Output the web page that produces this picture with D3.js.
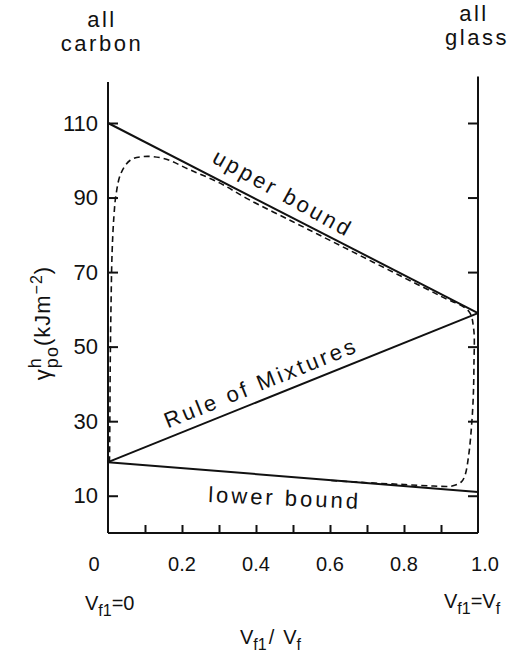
<!DOCTYPE html>
<html>
<head>
<meta charset="utf-8">
<script src="https://cdn.jsdelivr.net/npm/d3@7"></script>
<style>
  body { margin: 0; background: #fff; }
  text { font-family: "Liberation Sans", Arial, sans-serif; fill: #111; }
</style>
</head>
<body>
<div id="chart"></div>
<script>
var width = 510
var height = 660

// bounds (volume fraction of glass fibre -> toughness)
var upperBound = [[0, 110], [1, 59]]
var ruleOfMixtures = [[0, 19], [1, 59]]
var lowerBound = [[0, 19], [1, 11]]

var hybridCurve = [
  [0.004, 19], [0.005, 30], [0.006, 45], [0.008, 60], [0.011, 75], [0.016, 85],
  [0.022, 91], [0.035, 96.5], [0.06, 100], [0.095, 101], [0.15, 100.5],
  [0.22, 97.5], [0.3, 94], [0.38, 89.5], [0.5, 83.5], [0.6, 78.5], [0.7, 73.5],
  [0.8, 68.5], [0.9, 63.5], [0.975, 59.5], [0.988, 55], [0.989, 45],
  [0.987, 36], [0.982, 28], [0.975, 21], [0.965, 15.5], [0.955, 13.7], [0.93, 12.6],
  [0.88, 12.6], [0.8, 13], [0.7, 13.5], [0.6, 14.1]
]

var yTicks = [10, 30, 50, 70, 90, 110]
var xTicks = [0.1, 0.2, 0.3, 0.4, 0.5, 0.6, 0.7, 0.8, 0.9]
var xLabels = [0, 0.2, 0.4, 0.6, 0.8, 1.0]

var svg = d3.select("#chart")
    .append("svg")
    .attr("width", width)
    .attr("height", height)

var x = d3.scaleLinear().domain([0, 1]).range([108, 478])
var y = d3.scaleLinear().domain([0, 121]).range([533, 82])

var line = d3.line()
    .x(function (d) { return x(d[0]) })
    .y(function (d) { return y(d[1]) })

// axes frame
svg.append("line")
    .attr("x1", x(0)).attr("x2", x(0))
    .attr("y1", y(0)).attr("y2", y(121))
    .attr("stroke", "#111").attr("stroke-width", 2)
svg.append("line")
    .attr("x1", x(1)).attr("x2", x(1))
    .attr("y1", y(0)).attr("y2", y(122.5))
    .attr("stroke", "#111").attr("stroke-width", 2)
svg.append("line")
    .attr("x1", x(0)).attr("x2", x(1))
    .attr("y1", y(0)).attr("y2", y(0))
    .attr("stroke", "#111").attr("stroke-width", 2)

// left axis with inward ticks
var left = svg.append("g")
    .attr("transform", "translate(" + x(0) + ",0)")
    .call(d3.axisLeft(y).tickValues(yTicks).tickSize(-10).tickSizeOuter(0).tickPadding(10))
left.select(".domain").remove()
left.selectAll(".tick line").attr("stroke", "#111").attr("stroke-width", 2)
left.selectAll(".tick text")
    .style("font-size", "22px")
    .attr("fill", "#111")

// right axis, ticks only
var right = svg.append("g")
    .attr("transform", "translate(" + x(1) + ",0)")
    .call(d3.axisRight(y).tickValues(yTicks).tickSize(-10).tickSizeOuter(0).tickFormat(""))
right.select(".domain").remove()
right.selectAll(".tick line").attr("stroke", "#111").attr("stroke-width", 2)

// bottom ticks pointing up
var bottom = svg.append("g")
    .attr("transform", "translate(0," + y(0) + ")")
    .call(d3.axisBottom(x).tickValues(xTicks).tickSize(-8).tickSizeOuter(0).tickFormat(""))
bottom.select(".domain").remove()
bottom.selectAll(".tick line").attr("stroke", "#111").attr("stroke-width", 2)

// bottom tick labels
svg.selectAll(".xlab")
    .data(xLabels)
    .enter()
    .append("text")
    .attr("class", "xlab")
    .attr("x", function (d) { return x(d) + (d == 0 ? -14 : d == 1 ? 7 : 0) })
    .attr("y", 571)
    .attr("text-anchor", "middle")
    .style("font-size", "20px")
    .text(function (d) { return d == 0 ? "0" : d.toFixed(1) })

// bound lines
svg.append("path").datum(upperBound)
    .attr("d", line).attr("fill", "none").attr("stroke", "#111").attr("stroke-width", 2)
svg.append("path").datum(ruleOfMixtures)
    .attr("d", line).attr("fill", "none").attr("stroke", "#111").attr("stroke-width", 2)
svg.append("path").datum(lowerBound)
    .attr("d", line).attr("fill", "none").attr("stroke", "#111").attr("stroke-width", 2)

// hybrid dashed curve
svg.append("path").datum(hybridCurve)
    .attr("d", d3.line()
        .x(function (d) { return x(d[0]) })
        .y(function (d) { return y(d[1]) })
        .curve(d3.curveCatmullRom))
    .attr("fill", "none")
    .attr("stroke", "#111")
    .attr("stroke-width", 1.6)
    .attr("stroke-dasharray", "6,4")

// line labels, rotated to follow the lines
function lineLabel(txt, seg, t, off, extraRot) {
  var px = x(t), py = y(seg[0][1] + (seg[1][1] - seg[0][1]) * t)
  var ang = Math.atan2(y(seg[1][1]) - y(seg[0][1]), x(1) - x(0)) * 180 / Math.PI + extraRot
  svg.append("text")
      .attr("transform", "translate(" + px + "," + py + ") rotate(" + ang + ")")
      .attr("y", off)
      .attr("text-anchor", "middle")
      .style("font-size", "22px")
      .style("letter-spacing", "3px")
      .text(txt)
}
lineLabel("upper bound", upperBound, 0.45, -10, 2)
lineLabel("Rule of Mixtures", ruleOfMixtures, 0.43, -9, 0)
lineLabel("lower bound", lowerBound, 0.48, 29, -2)

// top corner labels
function cornerLabel(txt, xp, yp) {
  svg.append("text").attr("x", xp).attr("y", yp).attr("text-anchor", "middle")
      .style("font-size", "22px").style("letter-spacing", "2.5px").text(txt)
}
cornerLabel("all", 102, 27)
cornerLabel("carbon", 102, 51)
cornerLabel("all", 474, 21)
cornerLabel("glass", 477, 45)

// y axis title
var yt = svg.append("text")
    .attr("transform", "translate(50,323) rotate(-90)")
    .attr("text-anchor", "middle")
    .style("font-size", "22px")
    .style("letter-spacing", "1px")
yt.append("tspan").text("\u03B3")
yt.append("tspan").attr("dy", -9).style("font-size", "18px").text("h")
yt.append("tspan").attr("dx", -11).attr("dy", 17).style("font-size", "18px").text("po")
yt.append("tspan").attr("dy", -8).text("(kJm")
yt.append("tspan").attr("dy", -8).style("font-size", "16px").text("\u22122")
yt.append("tspan").attr("dy", 8).text(")")

// x-end annotations
function vLabel(xp, yp, rhs) {
  var t = svg.append("text").attr("x", xp).attr("y", yp)
      .style("font-size", "20px")
  t.append("tspan").text("V")
  t.append("tspan").attr("dy", 6).style("font-size", "16px").text("f1")
  t.append("tspan").attr("dy", -6).text("=" + (rhs == "0" ? "0" : "V"))
  if (rhs != "0") t.append("tspan").attr("dy", 6).style("font-size", "16px").text("f")
}
vLabel(85, 610, "0")
vLabel(444, 608, "Vf")

var xt = svg.append("text").attr("x", 240).attr("y", 644)
    .style("font-size", "20px")
xt.append("tspan").text("V")
xt.append("tspan").attr("dy", 6).style("font-size", "16px").text("f1")
xt.append("tspan").attr("dy", -6).attr("dx", 2).text("/")
xt.append("tspan").attr("dx", 9).text("V")
xt.append("tspan").attr("dy", 6).style("font-size", "16px").text("f")
</script>
</body>
</html>
